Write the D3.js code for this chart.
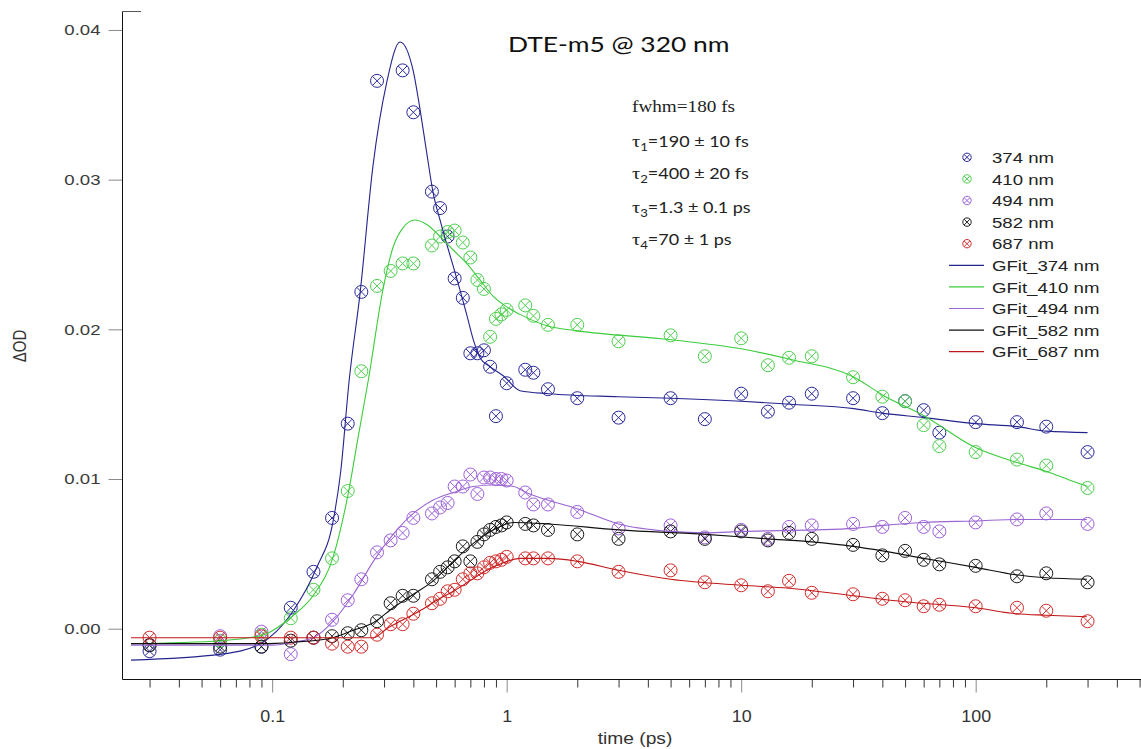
<!DOCTYPE html>
<html>
<head>
<meta charset="utf-8">
<script src="https://cdn.jsdelivr.net/npm/d3@7"></script>
<style>
  body { margin: 0; background: #fff; }
  svg { display: block; }
</style>
</head>
<body>
<svg id="chart" width="1141" height="749"></svg>
<script>
// ---- Measured transient absorption data (ΔOD vs delay time, ps) ----
const times = [0.03, 0.06, 0.09, 0.12, 0.15, 0.18, 0.21, 0.24, 0.28, 0.32, 0.36, 0.40,
  0.48, 0.52, 0.56, 0.60, 0.65, 0.70, 0.75, 0.80, 0.85, 0.90, 0.95, 1.0,
  1.2, 1.3, 1.5, 2, 3, 5, 7, 10, 13, 16, 20, 30, 40, 50, 60, 70, 100, 150, 200, 300];

const od374 = [-0.0015, -0.0014, -0.0012, 0.0014, 0.0038, 0.0074, 0.0137, 0.0225, 0.0366, null, 0.0373, 0.0345,
  0.0292, 0.0281, 0.0262, 0.0234, 0.0221, 0.0184, 0.0184, 0.0186, 0.0175, 0.0142, null, 0.0164,
  0.0173, 0.0171, 0.0160, 0.0154, 0.0141, 0.0154, 0.0140, 0.0157, 0.0145, 0.0151, 0.0157, 0.0154, 0.0144, 0.0152, 0.0146, 0.0131, 0.0138, 0.0138, 0.0135, 0.0118];

const od410 = [-0.0011, -0.0008, -0.0004, 0.0007, 0.0026, 0.0047, 0.0092, 0.0172, 0.0229, 0.0239, 0.0244, 0.0244,
  0.0256, 0.0262, 0.0265, 0.0266, 0.0258, 0.0248, 0.0233, 0.0227, 0.0195, 0.0207, 0.0210, 0.0213,
  0.0216, 0.0209, 0.0203, 0.0203, 0.0192, 0.0196, 0.0182, 0.0194, 0.0176, 0.0181, 0.0182, 0.0168, 0.0155, 0.0152, 0.0136, 0.0122, 0.0118, 0.0113, 0.0109, 0.0094];

const od494 = [-0.0011, -0.0005, -0.0002, -0.0017, -0.0006, 0.0006, 0.0019, 0.0033, 0.0051, 0.0059, 0.0064, 0.0074,
  0.0077, 0.0081, 0.0084, 0.0095, 0.0095, 0.0103, 0.0090, 0.0101, 0.0101, 0.0100, 0.0100, 0.0099,
  0.0091, 0.0083, 0.0083, 0.0078, 0.0067, 0.0069, 0.0061, 0.0066, 0.0060, 0.0068, 0.0069, 0.0070, 0.0068, 0.0074, 0.0068, 0.0065, 0.0071, 0.0073, 0.0077, 0.0070];

const od582 = [-0.0011, -0.0012, -0.0012, -0.0008, -0.0006, -0.0005, -0.0003, -0.0001, 0.0005, 0.0017, 0.0022, 0.0022,
  0.0033, 0.0038, 0.0041, 0.0045, 0.0055, 0.0045, 0.0058, 0.0063, 0.0066, 0.0068, 0.0069, 0.0071,
  0.0070, 0.0069, 0.0066, 0.0063, 0.0060, 0.0065, 0.0060, 0.0065, 0.0059, 0.0064, 0.0060, 0.0056, 0.0049, 0.0052, 0.0046, 0.0043, 0.0042, 0.0035, 0.0037, 0.0031];

const od687 = [-0.0006, -0.0006, -0.0005, -0.0006, -0.0006, -0.0010, -0.0012, -0.0012, -0.0004, 0.0003, 0.0003, 0.0010,
  0.0017, 0.0020, 0.0025, 0.0026, 0.0033, 0.0037, 0.0037, 0.0041, 0.0044, 0.0045, 0.0046, 0.0048,
  0.0047, 0.0047, 0.0047, 0.0045, 0.0038, 0.0039, 0.0031, 0.0029, 0.0025, 0.0032, 0.0024, 0.0023, 0.0020, 0.0019, 0.0015, 0.0016, 0.0015, 0.0014, 0.0012, 0.0005];

// ---- Global fit curves (GFit_*) ----
const fitT374 = [0.025, 0.061, 0.089, 0.104, 0.123, 0.155, 0.182, 0.196, 0.213, 0.237, 0.269, 0.308, 0.351, 0.399, 0.427,
  0.456, 0.486, 0.520, 0.555, 0.592, 0.633, 0.675, 0.721, 0.769, 0.849, 0.967, 1.14, 1.51, 2.98, 5.02, 10.0, 16.1, 30.3,
  39.9, 60.6, 99.8, 150, 201, 300];
const fit374 = [-0.0021, -0.0017, -0.0010, -0.0002, 0.0012, 0.0041, 0.0072, 0.0105, 0.0166, 0.0224, 0.0309, 0.0365, 0.0392, 0.0373, 0.0347,
  0.0318, 0.0291, 0.0273, 0.0257, 0.0242, 0.0226, 0.0210, 0.0193, 0.0181, 0.0175, 0.0169, 0.0159, 0.0157, 0.0155, 0.0154, 0.0152, 0.0150, 0.0147,
  0.0144, 0.0141, 0.0137, 0.0135, 0.0132, 0.0131];

const fitT410 = [0.025, 0.061, 0.092, 0.121, 0.151, 0.182, 0.212, 0.232, 0.257, 0.298, 0.328, 0.362, 0.406, 0.456, 0.520,
  0.592, 0.675, 0.769, 0.877, 1.0, 1.14, 1.51, 2.01, 5.04, 10.0, 16.1, 30.3, 40.2, 60.6, 99.8, 150, 201, 254, 300];
const fit410 = [-0.0010, -0.0008, -0.0004, 0.0008, 0.0023, 0.0048, 0.0092, 0.0127, 0.0166, 0.0228, 0.0255, 0.0268, 0.0273, 0.0270, 0.0262,
  0.0253, 0.0244, 0.0233, 0.0222, 0.0215, 0.0210, 0.0202, 0.0199, 0.0193, 0.0187, 0.0180, 0.0168, 0.0156, 0.0142, 0.0121, 0.0111, 0.0105, 0.0099, 0.0095];

const fitT494 = [0.025, 0.10, 0.123, 0.150, 0.182, 0.222, 0.270, 0.328, 0.400, 0.486, 0.592, 0.721, 0.877, 1.07, 1.21,
  2.01, 3.0, 5.0, 7.05, 10.0, 20.1, 30.1, 40.2, 60, 100, 149, 298];
const fit494 = [-0.0011, -0.0011, -0.0009, -0.0006, 0.0005, 0.0023, 0.0045, 0.0063, 0.0077, 0.0086, 0.0091, 0.0095, 0.0096, 0.0095, 0.0091,
  0.0080, 0.0070, 0.0065, 0.0064, 0.0065, 0.0066, 0.0067, 0.0069, 0.0071, 0.0072, 0.0073, 0.0073];

const fitT582 = [0.025, 0.091, 0.123, 0.182, 0.222, 0.270, 0.328, 0.400, 0.486, 0.592, 0.721, 0.877, 1.07, 1.51, 3.0,
  7.05, 13, 20, 30, 40, 60, 100, 149, 199, 298];
const fit582 = [-0.0010, -0.0010, -0.0009, -0.0006, -0.0001, 0.0004, 0.0014, 0.0023, 0.0032, 0.0045, 0.0057, 0.0066, 0.0071, 0.0070, 0.0066,
  0.0063, 0.0060, 0.0058, 0.0055, 0.0052, 0.0047, 0.0041, 0.0036, 0.0034, 0.0033];

const fitT687 = [0.025, 0.270, 0.308, 0.362, 0.427, 0.503, 0.592, 0.697, 0.822, 0.967, 1.14, 1.51, 2.01, 3.0, 5.0,
  10.0, 16, 30, 50, 100, 149, 199, 298];
const fit687 = [-0.0006, -0.0006, 0.0000, 0.0006, 0.0012, 0.0019, 0.0025, 0.0032, 0.0039, 0.0044, 0.0047, 0.0047, 0.0045, 0.0039, 0.0033,
  0.0029, 0.0027, 0.0022, 0.0018, 0.0014, 0.0010, 0.0009, 0.0008];

const wavelengths = ["374 nm", "410 nm", "494 nm", "582 nm", "687 nm"];
const fitNames = ["GFit_374 nm", "GFit_410 nm", "GFit_494 nm", "GFit_582 nm", "GFit_687 nm"];
const yTickValues = [0, 0.01, 0.02, 0.03, 0.04];
const xMajorTicks = [0.1, 1, 10, 100];

const titleText = "DTE-m5 @ 320 nm";
const fwhmText = "fwhm=180 fs";
const tauLines = [["1", "=190 ± 10 fs"], ["2", "=400 ± 20 fs"], ["3", "=1.3 ± 0.1 ps"], ["4", "=70 ± 1 ps"]];

// ---- Styling ----
const pointColors = ["#2b2b9c", "#4fcf4f", "#9d62da", "#1c1c1c", "#d42c2c"];
const lineColors  = ["#24248e", "#3ccc3c", "#9a64d2", "#111111", "#c01818"];
const SX = 1.2;            // horizontal text stretch
const SANS = "'Liberation Sans', Arial, sans-serif";

const svg = d3.select("#chart");

const x = d3.scaleLog().domain([0.0230, 507]).range([122.5, 1141]);
const y = d3.scaleLinear().domain([-0.00336, 0.0412]).range([679, 12]);

const pointSets = [od374, od410, od494, od582, od687];
const fitSets = [[fitT374, fit374], [fitT410, fit410], [fitT494, fit494], [fitT582, fit582], [fitT687, fit687]];

// ---- Axes ----
const yAxis = d3.axisLeft(y).tickValues(yTickValues).tickFormat(d3.format(".2f"))
  .tickSize(14).tickPadding(8);
const gy = svg.append("g").attr("transform", "translate(122.5,0)").call(yAxis);
gy.select(".domain").remove();
gy.selectAll(".tick line").attr("stroke", "#8a8a8a");
gy.selectAll(".tick text")
  .attr("font-family", SANS).attr("font-size", 15.5).attr("fill", "#3a3a3a")
  .attr("x", -22 / SX).attr("transform", `scale(${SX},1)`);

const minorTicks = x.ticks().filter(t => t >= 0.029 && !xMajorTicks.some(m => Math.abs(m - t) / m < 1e-6));
const gxMinor = svg.append("g").attr("transform", "translate(0,679.5)")
  .call(d3.axisBottom(x).tickValues(minorTicks).tickSize(8).tickFormat(""));
gxMinor.select(".domain").remove();
gxMinor.selectAll(".tick line").attr("stroke", "#333");

const gx = svg.append("g").attr("transform", "translate(0,679.5)")
  .call(d3.axisBottom(x).tickValues(xMajorTicks).tickSize(13).tickPadding(17).tickFormat(d3.format("~g")));
gx.select(".domain").remove();
gx.selectAll(".tick line").attr("stroke", "#8a8a8a");
gx.selectAll(".tick text")
  .attr("font-family", SANS).attr("font-size", 17).attr("fill", "#333")
  .attr("transform", `scale(1.05,1)`);

// axis frame lines
svg.append("path").attr("d", "M122.5,11.5V679.5H1141").attr("fill", "none").attr("stroke", "#111").attr("stroke-width", 1);
svg.append("path").attr("d", "M122.5,11.5H141").attr("fill", "none").attr("stroke", "#555").attr("stroke-width", 1);

// axis titles
svg.append("text").text("time (ps)")
  .attr("font-family", SANS).attr("font-size", 16).attr("fill", "#333").attr("text-anchor", "middle")
  .attr("transform", `translate(635,744) scale(${SX},1)`);
svg.append("text").text("ΔOD")
  .attr("font-family", SANS).attr("font-size", 15).attr("fill", "#333").attr("text-anchor", "middle")
  .attr("dy", "0.35em")
  .attr("transform", `translate(20,346) rotate(-90) scale(1,${SX})`);

// ---- Markers ----
function marker(g, cx, cy, r, color) {
  const a = r * 0.68;
  const m = g.append("g").attr("transform", `translate(${cx},${cy})`)
    .attr("fill", "none").attr("stroke", color).attr("stroke-width", 1);
  m.append("circle").attr("r", r);
  m.append("path").attr("d", `M${-a},${-a}L${a},${a}M${-a},${a}L${a},${-a}`);
}

const gPts = svg.append("g");
pointSets.forEach((vals, i) => {
  const g = gPts.append("g");
  times.forEach((t, k) => {
    if (vals[k] === null) return;
    marker(g, x(t), y(vals[k]), 6.5, pointColors[i]);
  });
});

// ---- Fit lines ----
const line = d3.line().x(d => x(d[0])).y(d => y(d[1])).curve(d3.curveMonotoneX);
fitSets.forEach(([ts, vs], i) => {
  svg.append("path")
    .datum(ts.map((t, k) => [t, vs[k]]))
    .attr("d", line)
    .attr("fill", "none").attr("stroke", lineColors[i]).attr("stroke-width", 1.1);
});

// ---- Legend ----
const legendTop = 157.3, legendStep = 21.6;
const gLeg = svg.append("g");
wavelengths.forEach((name, i) => {
  const cy = legendTop + legendStep * i;
  marker(gLeg, 967, cy, 4.2, pointColors[i]);
  gLeg.append("text").text(name)
    .attr("font-family", SANS).attr("font-size", 15.5).attr("fill", "#222")
    .attr("transform", `translate(992,${cy + 5.6}) scale(${SX},1)`);
});
fitNames.forEach((name, i) => {
  const cy = legendTop + legendStep * (i + 5);
  gLeg.append("line").attr("x1", 949).attr("x2", 984).attr("y1", cy).attr("y2", cy)
    .attr("stroke", lineColors[i]).attr("stroke-width", 1.2);
  gLeg.append("text").text(name)
    .attr("font-family", SANS).attr("font-size", 15.5).attr("fill", "#222")
    .attr("transform", `translate(992,${cy + 5.6}) scale(${SX},1)`);
});

// ---- Title and fit parameters ----
svg.append("text").text(titleText)
  .attr("font-family", "Lato, 'Open Sans', sans-serif").attr("font-size", 22).attr("fill", "#111")
  .attr("transform", `translate(508,52) scale(${SX},1)`);

svg.append("text").text(fwhmText)
  .attr("font-family", "'Liberation Serif', serif").attr("font-size", 16).attr("fill", "#222")
  .attr("transform", `translate(632,111.7) scale(${SX},1)`);

const tauBaselines = [146.7, 179.3, 213.3, 245.3];
tauLines.forEach(([sub, rest], i) => {
  const t = svg.append("text")
    .attr("font-family", "Lato, 'Open Sans', sans-serif").attr("font-size", 15).attr("fill", "#222")
    .attr("transform", `translate(632,${tauBaselines[i]}) scale(${SX},1)`);
  t.append("tspan").text("τ").attr("font-family", "'Liberation Serif', serif").attr("font-size", 17);
  t.append("tspan").text(sub).attr("font-size", 11).attr("dy", 4);
  t.append("tspan").text(rest).attr("dy", -4);
});
</script>
</body>
</html>
